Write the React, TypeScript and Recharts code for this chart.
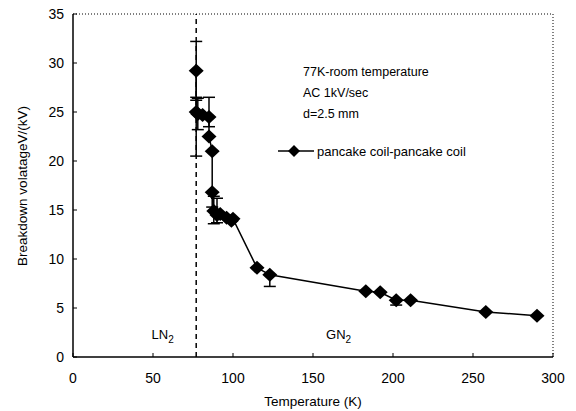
import React from "react";
import {
  LineChart,
  Line,
  XAxis,
  YAxis,
  ErrorBar,
  ReferenceLine,
  ReferenceDot,
} from "recharts";

// Temperature (K) and breakdown voltage (kV)
const temps = [77, 77, 78, 81, 85, 85, 87, 87, 88, 90, 92, 96, 99, 100, 115, 123, 183, 192, 202, 211, 258, 290];
const volts = [29.2, 25.0, 24.8, 24.7, 24.5, 22.5, 21.0, 16.8, 14.9, 14.5, 14.6, 14.2, 13.9, 14.1, 9.1, 8.4, 6.7, 6.6, 5.8, 5.8, 4.6, 4.2];
const errLow = [3, 4.5, 1.6, 0, 1, 0, 0, 1.5, 1.3, 0.8, 0, 0, 0, 0, 0, 1.2, 0, 0, 0.5, 0, 0, 0];
const errHigh = [3, 1.5, 1.6, 0, 2, 0, 0, 0, 1.5, 1.7, 0, 0, 0, 0, 0, 0, 0, 0, 0, 0, 0, 0];

const xTicks = [0, 50, 100, 150, 200, 250, 300];
const yTicks = [0, 5, 10, 15, 20, 25, 30, 35];

const notes = ["77K-room temperature", "AC 1kV/sec", "d=2.5 mm"];
const seriesName = "pancake coil-pancake coil";

const FONT = "'Liberation Sans', Arial, sans-serif";

const data = temps.map((t, i) => ({
  t,
  v: volts[i],
  err: [errLow[i], errHigh[i]],
}));

// Black diamond marker
const Diamond = (props: any) => {
  const { cx, cy } = props;
  if (cx == null || cy == null) return null;
  return (
    <polygon
      points={`${cx},${cy - 7} ${cx + 7.5},${cy} ${cx},${cy + 7} ${cx - 7.5},${cy}`}
      fill="#000"
    />
  );
};

// Ticks pointing into the plot
const XTick = (props: any) => {
  const { x, y, payload } = props;
  return (
    <g>
      <line x1={x} y1={y} x2={x} y2={y - 4} stroke="#000" strokeWidth={1} />
      <text x={x} y={y + 26} textAnchor="middle" fontSize={14} fontFamily={FONT} fill="#000">
        {payload.value}
      </text>
    </g>
  );
};

const YTick = (props: any) => {
  const { x, y, payload } = props;
  return (
    <g>
      <line x1={x} y1={y} x2={x + 4} y2={y} stroke="#000" strokeWidth={1} />
      <text x={x - 9} y={y + 5} textAnchor="end" fontSize={14} fontFamily={FONT} fill="#000">
        {payload.value}
      </text>
    </g>
  );
};

const PhaseLabel = (text: string) => (props: any) => {
  const { cx, cy } = props;
  return (
    <text x={cx} y={cy} textAnchor="middle" fontSize={13} fontFamily={FONT} fill="#000">
      {text.slice(0, -1)}
      <tspan fontSize={10} dy={4}>{text.slice(-1)}</tspan>
    </text>
  );
};

export default function App() {
  return (
    <div style={{ position: "relative", width: 576, height: 411, background: "#fff", fontFamily: FONT }}>
      <style>{`body{margin:0}`}</style>
      <LineChart
        width={576}
        height={411}
        data={data}
        margin={{ top: 14, right: 23, left: 0, bottom: 0 }}
      >
        <XAxis
          type="number"
          dataKey="t"
          domain={[0, 300]}
          ticks={xTicks}
          tickLine={false}
          tickSize={0}
          tickMargin={0}
          tick={<XTick />}
          axisLine={{ stroke: "#000", strokeWidth: 1.5 }}
          height={54}
          allowDataOverflow
        />
        <YAxis
          type="number"
          domain={[0, 35]}
          ticks={yTicks}
          tickLine={false}
          tickSize={0}
          tickMargin={0}
          tick={<YTick />}
          axisLine={{ stroke: "#000", strokeWidth: 1.5 }}
          width={73}
        />
        <ReferenceLine y={35} stroke="#000" strokeWidth={1} strokeDasharray="1 2" />
        <ReferenceLine x={300} stroke="#000" strokeWidth={1} strokeDasharray="1 2" />
        <ReferenceLine x={77} stroke="#000" strokeWidth={1.5} strokeDasharray="5 4" />
        <ReferenceDot x={56} y={1.8} r={0} shape={PhaseLabel("LN2")} />
        <ReferenceDot x={166} y={1.8} r={0} shape={PhaseLabel("GN2")} />
        <Line
          dataKey="v"
          stroke="#000"
          strokeWidth={1.5}
          dot={<Diamond />}
          activeDot={false}
          isAnimationActive={false}
        >
          <ErrorBar dataKey="err" direction="y" width={6} stroke="#000" strokeWidth={1.5} />
        </Line>
      </LineChart>

      {/* annotation block */}
      <div style={{ position: "absolute", left: 303, top: 62, fontSize: 12.5, lineHeight: "21px", color: "#000" }}>
        {notes.map((n) => (
          <div key={n}>{n}</div>
        ))}
      </div>

      {/* legend */}
      <div style={{ position: "absolute", left: 278, top: 143, display: "flex", alignItems: "center", fontSize: 13 }}>
        <svg width={36} height={16}>
          <line x1={0} y1={8} x2={36} y2={8} stroke="#000" strokeWidth={1.5} />
          <polygon points="16,2 22,8 16,14 10,8" fill="#000" />
        </svg>
        <span style={{ marginLeft: 3 }}>{seriesName}</span>
      </div>

      {/* axis titles */}
      <div style={{ position: "absolute", left: 0, width: 626, top: 394, textAlign: "center", fontSize: 13.5 }}>
        Temperature (K)
      </div>
      <div
        style={{
          position: "absolute",
          left: 22,
          top: 186,
          transform: "translate(-50%, -50%) rotate(-90deg)",
          whiteSpace: "nowrap",
          fontSize: 13.5,
        }}
      >
        Breakdown volatageV/(kV)
      </div>
    </div>
  );
}
